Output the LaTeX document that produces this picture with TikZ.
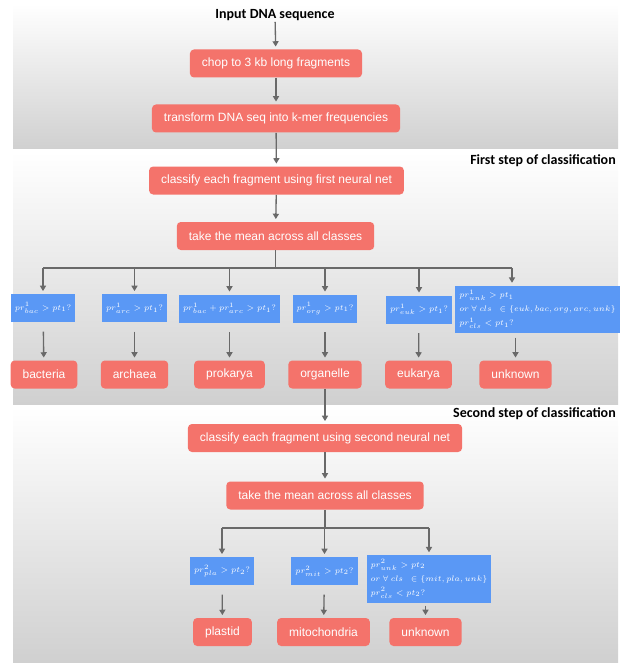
\documentclass[tikz,border=0pt]{standalone}
\usepackage{amsmath}
\usepackage{amssymb}
\usepackage{xcolor}
\usepackage{fontspec}
\setmainfont{Liberation Sans}
\newfontfamily\headfont{Carlito}
\usepackage{tikz}
\usetikzlibrary{arrows.meta}

\definecolor{boxred}{RGB}{244,115,107}
\definecolor{boxblue}{RGB}{90,152,245}
\definecolor{arrgray}{RGB}{105,105,105}
\definecolor{bandgray}{RGB}{208,208,208}

\tikzset{
  redbox/.style={fill=boxred, rounded corners=3pt, text=white, font=\fontsize{9}{11}\selectfont, inner xsep=9pt, minimum height=21pt},
  bluebox/.style={fill=boxblue, text=white, font=\fontsize{6.5}{10.5}\selectfont, inner xsep=3pt, minimum height=21pt, align=left},
  headtext/.style={font=\headfont\bfseries\fontsize{10.5}{12}\selectfont, inner sep=0.75pt},
  arr/.style={draw=arrgray, line width=1pt, -{Triangle[length=4pt,width=4.5pt]}, shorten >=2pt},
  arrgap/.style={arr, shorten <=7pt},
  treeline/.style={draw=arrgray, line width=1pt},
  band/.style={top color=white, bottom color=bandgray}
}

\begin{document}
\begin{tikzpicture}[x=0.75pt,y=0.75pt,yscale=-1,xscale=1]
\useasboundingbox (0,0) rectangle (626,663);

%Shape: background bands
\shade[band] (13,4) rectangle (618,149);
\shade[band] (13,152) rectangle (618,404);
\shade[band] (13,407) rectangle (618,662);

% Text Node
\node[headtext] (input) at (275,15) {Input DNA sequence};
\node[headtext, anchor=east] (step1) at (617,161) {First step of classification};
\node[headtext, anchor=east] (step2) at (617,414) {Second step of classification};

% first step
\node[redbox] (chop) at (276,63.5) {chop to 3 kb long fragments};
\node[redbox] (kmer) at (276,118.5) {transform DNA seq into k-mer frequencies};
\node[redbox] (cls1) at (276.5,180.5) {classify each fragment using first neural net};
\node[redbox] (mean1) at (275.5,236) {take the mean across all classes};

\node[bluebox] (bac) at (43,308) {$pr^1_{bac} > pt_1?$};
\node[bluebox] (arc) at (134.5,308) {$pr^1_{arc} > pt_1?$};
\node[bluebox] (bacarc) at (229.5,308.5) {$pr^1_{bac} + pr^1_{arc} > pt_1?$};
\node[bluebox] (org) at (325,308.5) {$pr^1_{org} > pt_1?$};
\node[bluebox] (euk) at (419,309.5) {$pr^1_{euk} > pt_1?$};
\node[bluebox] (unk1) at (537.5,309.5) {$pr^1_{unk} > pt_1$\\$or\ \forall\ cls\ \ \in \{euk, bac, org, arc, unk\}$\\$pr^1_{cls} < pt_1?$};

\node[redbox] (bacteria) at (44,374.5) {bacteria};
\node[redbox] (archaea) at (134.5,374.5) {archaea};
\node[redbox] (prokarya) at (229.5,374.5) {prokarya};
\node[redbox] (organelle) at (325,374.5) {organelle};
\node[redbox] (eukarya) at (418.5,374.5) {eukarya};
\node[redbox] (unknown1) at (515.5,374.5) {unknown};

% second step
\node[redbox] (cls2) at (325,438) {classify each fragment using second neural net};
\node[redbox] (mean2) at (325,495.5) {take the mean across all classes};

\node[bluebox] (pla) at (222,571) {$pr^2_{pla} > pt_2?$};
\node[bluebox] (mit) at (324.5,571) {$pr^2_{mit} > pt_2?$};
\node[bluebox] (unk2) at (429,579) {$pr^2_{unk} > pt_2$\\$or\ \forall\ cls\ \ \in \{mit, pla, unk\}$\\$pr^2_{cls} < pt_2?$};

\node[redbox] (plastid) at (222.5,632) {plastid};
\node[redbox] (mito) at (323.5,632) {mitochondria};
\node[redbox] (unknown2) at (425.5,632) {unknown};

%Straight Lines
\draw[arr] (input) -- (chop);
\draw[arr] (chop) -- (kmer);
\draw[arr] (kmer) -- (cls1);
\draw[arr] (cls1) -- (mean1);

\coordinate (split1) at (275.5,268);
\coordinate (end1) at (512,268);
\draw[treeline] (mean1) -- (split1);
\draw[treeline] (bac |- split1) -- (end1);
\foreach \b in {bac,arc,bacarc,org,euk}
  \draw[arr] (\b |- split1) -- (\b);
\draw[arr] (end1) -- (end1 |- unk1.north);

\draw[arrgap] (bac) -- (bacteria);
\draw[arrgap] (arc) -- (archaea);
\draw[arrgap] (bacarc) -- (prokarya);
\draw[arrgap] (org) -- (organelle);
\draw[arrgap] (euk) -- (eukarya);
\draw[arr, shorten <=3pt] (unknown1 |- unk1.south) -- (unknown1);

\draw[arr] (organelle) -- (cls2);
\draw[arr] (cls2) -- (mean2);

\coordinate (split2) at (325,528);
\draw[treeline] (mean2) -- (split2);
\draw[treeline] (pla |- split2) -- (unk2 |- split2);
\foreach \b in {pla,mit,unk2}
  \draw[arr] (\b |- split2) -- (\b);

\draw[arrgap] (pla) -- (plastid);
\draw[arrgap] (mit) -- (mito);
\draw[arr, shorten <=2pt] (unknown2 |- unk2.south) -- (unknown2);
\end{tikzpicture}
\end{document}
